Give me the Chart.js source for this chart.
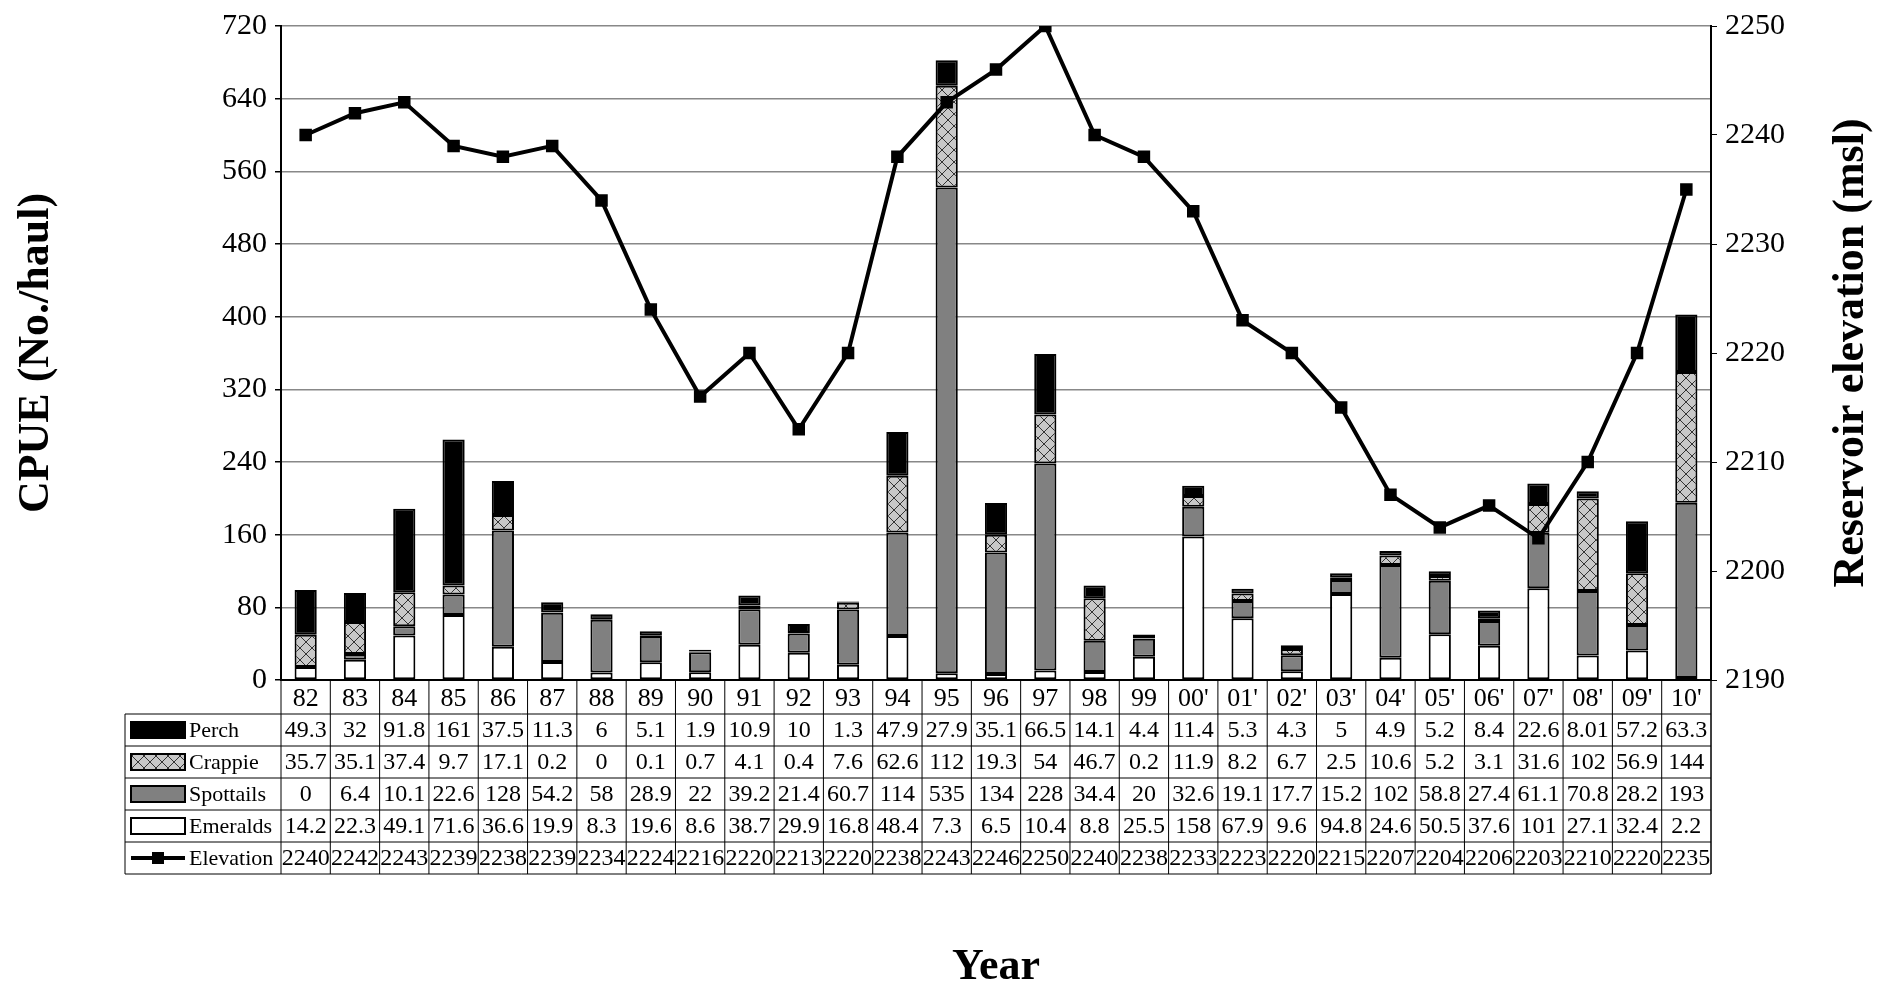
<!DOCTYPE html>
<html>
<head>
<meta charset="utf-8">
<script src="https://cdn.jsdelivr.net/npm/chart.js@4.4.0/dist/chart.umd.min.js"></script>
<style>
  html, body { margin: 0; padding: 0; background: #fff; }
  #wrap { width: 1891px; height: 985px; }
</style>
</head>
<body>
<div id="wrap"><canvas id="c" width="1891" height="985"></canvas></div>
<script>
// --- data ---
const years = ['82','83','84','85','86','87','88','89','90','91','92','93','94','95','96','97','98','99',"00'","01'","02'","03'","04'","05'","06'","07'","08'","09'","10'"];
const perch     = [49.3,32,91.8,161,37.5,11.3,6,5.1,1.9,10.9,10,1.3,47.9,27.9,35.1,66.5,14.1,4.4,11.4,5.3,4.3,5,4.9,5.2,8.4,22.6,8.01,57.2,63.3];
const crappie   = [35.7,35.1,37.4,9.7,17.1,0.2,0,0.1,0.7,4.1,0.4,7.6,62.6,112,19.3,54,46.7,0.2,11.9,8.2,6.7,2.5,10.6,5.2,3.1,31.6,102,56.9,144];
const spottails = [0,6.4,10.1,22.6,128,54.2,58,28.9,22,39.2,21.4,60.7,114,535,134,228,34.4,20,32.6,19.1,17.7,15.2,102,58.8,27.4,61.1,70.8,28.2,193];
const emeralds  = [14.2,22.3,49.1,71.6,36.6,19.9,8.3,19.6,8.6,38.7,29.9,16.8,48.4,7.3,6.5,10.4,8.8,25.5,158,67.9,9.6,94.8,24.6,50.5,37.6,101,27.1,32.4,2.2];
const elevation = [2240,2242,2243,2239,2238,2239,2234,2224,2216,2220,2213,2220,2238,2243,2246,2250,2240,2238,2233,2223,2220,2215,2207,2204,2206,2203,2210,2220,2235];

const serif = "'Liberation Serif', 'DejaVu Serif', serif";

// crosshatch fill for crappie
function hatch() {
  const p = document.createElement('canvas');
  p.width = 12; p.height = 12;
  const g = p.getContext('2d');
  g.fillStyle = '#c8c8c8';
  g.fillRect(0, 0, 12, 12);
  g.strokeStyle = '#333';
  g.lineWidth = 1;
  g.beginPath();
  g.moveTo(0, 0); g.lineTo(12, 12);
  g.moveTo(12, 0); g.lineTo(0, 12);
  g.stroke();
  return document.getElementById('c').getContext('2d').createPattern(p, 'repeat');
}
const hatchFill = hatch();

const rows = [
  { name: 'Perch', vals: perch, key: 'perch' },
  { name: 'Crappie', vals: crappie, key: 'crappie' },
  { name: 'Spottails', vals: spottails, key: 'spot' },
  { name: 'Emeralds', vals: emeralds, key: 'emer' },
  { name: 'Elevation', vals: elevation, key: 'elev' }
];

// data table, "Year" and the right-hand title
const tablePlugin = {
  id: 'table',
  afterDraw(chart) {
    const ctx = chart.ctx, x = chart.scales.x, area = chart.chartArea;
    const half = (x.getPixelForValue(1) - x.getPixelForValue(0)) / 2;
    const left = 125, top = area.bottom, yearH = 34, rowH = 32;
    ctx.save();
    ctx.strokeStyle = '#000';
    ctx.lineWidth = 1;
    ctx.fillStyle = '#000';
    ctx.textAlign = 'center';
    ctx.textBaseline = 'middle';
    const bottom = top + yearH + rowH * rows.length;
    ctx.beginPath();
    ctx.moveTo(area.left, top); ctx.lineTo(area.left, bottom);
    ctx.moveTo(area.right, top); ctx.lineTo(area.right, bottom);
    ctx.moveTo(left, top + yearH); ctx.lineTo(left, bottom);
    for (let r = 0; r <= rows.length; r++) {
      const y = top + yearH + r * rowH;
      ctx.moveTo(left, y); ctx.lineTo(area.right, y);
    }
    years.forEach((yr, i) => {
      const cx = x.getPixelForValue(i);
      ctx.moveTo(cx + half, top); ctx.lineTo(cx + half, bottom);
    });
    ctx.stroke();
    years.forEach((yr, i) => {
      const cx = x.getPixelForValue(i);
      ctx.font = '26px ' + serif;
      ctx.fillText(yr, cx, top + yearH / 2 + 2);
      ctx.font = '24px ' + serif;
      rows.forEach((r, j) => {
        ctx.fillText(String(r.vals[i]), cx, top + yearH + j * rowH + rowH / 2 + 1);
      });
    });
    // legend keys
    ctx.textAlign = 'left';
    ctx.font = '22px ' + serif;
    rows.forEach((r, j) => {
      const cy = top + yearH + j * rowH + rowH / 2;
      const kx = 131, kw = 54, kh = 16;
      if (r.key === 'elev') {
        ctx.lineWidth = 4;
        ctx.beginPath(); ctx.moveTo(kx, cy); ctx.lineTo(kx + kw, cy); ctx.stroke();
        ctx.fillRect(kx + kw / 2 - 6, cy - 6, 12, 12);
      } else {
        ctx.fillStyle = r.key === 'perch' ? '#000' : r.key === 'crappie' ? hatchFill : r.key === 'spot' ? '#808080' : '#fff';
        ctx.fillRect(kx, cy - kh / 2, kw, kh);
        ctx.lineWidth = 2;
        ctx.strokeRect(kx, cy - kh / 2, kw, kh);
      }
      ctx.fillStyle = '#000';
      ctx.fillText(r.name, kx + kw + 4, cy + 1);
    });
    ctx.font = 'bold 44px ' + serif;
    ctx.textAlign = 'center';
    ctx.fillText('Year', (area.left + area.right) / 2, 968);
    // right title reads bottom-to-top
    ctx.translate(1852, (area.top + area.bottom) / 2);
    ctx.rotate(-Math.PI / 2);
    ctx.fillText('Reservoir elevation (msl)', 0, 0);
    ctx.restore();
  }
};

const barBase = { type: 'bar', yAxisID: 'y', stack: 's', borderColor: '#000', borderWidth: 2, borderSkipped: false, order: 2 };

new Chart(document.getElementById('c'), {
  data: {
    labels: years,
    datasets: [
      { type: 'line', label: 'Elevation', data: elevation, yAxisID: 'y1', borderColor: '#000', backgroundColor: '#000',
        borderWidth: 4, pointStyle: 'rect', pointRadius: 6, tension: 0, order: 1 },
      { ...barBase, label: 'Emeralds', data: emeralds, backgroundColor: '#fff' },
      { ...barBase, label: 'Spottails', data: spottails, backgroundColor: '#808080' },
      { ...barBase, label: 'Crappie', data: crappie, backgroundColor: hatchFill },
      { ...barBase, label: 'Perch', data: perch, backgroundColor: '#000' }
    ]
  },
  options: {
    responsive: false,
    animation: false,
    devicePixelRatio: 1,
    layout: { padding: { top: 21, bottom: 305, left: 0, right: 0 } },
    datasets: { bar: { barPercentage: 0.45, categoryPercentage: 1 } },
    plugins: { legend: { display: false }, tooltip: { enabled: false } },
    scales: {
      x: {
        stacked: true,
        ticks: { display: false },
        grid: { display: false },
        border: { color: '#000', width: 2 },
        afterFit(s) { s.height = 0; }
      },
      y: {
        stacked: true, min: 0, max: 720,
        ticks: { stepSize: 80, color: '#000', font: { family: serif, size: 30 }, padding: 8 },
        grid: { color: '#888', lineWidth: 1.5, drawTicks: true, tickColor: '#000', tickLength: 6 },
        border: { color: '#000', width: 2 },
        title: { display: true, text: 'CPUE (No./haul)', color: '#000', font: { family: serif, size: 44, weight: 'bold' }, padding: { top: 10 } },
        afterFit(s) { s.width = 281; }
      },
      y1: {
        position: 'right', min: 2190, max: 2250,
        ticks: { stepSize: 10, color: '#000', font: { family: serif, size: 30 }, padding: 8, callback: v => String(v) },
        grid: { drawOnChartArea: false, tickColor: '#000', tickLength: 6 },
        border: { color: '#000', width: 2 },
        afterFit(s) { s.width = 180; }
      }
    }
  },
  plugins: [tablePlugin]
});
</script>
</body>
</html>
